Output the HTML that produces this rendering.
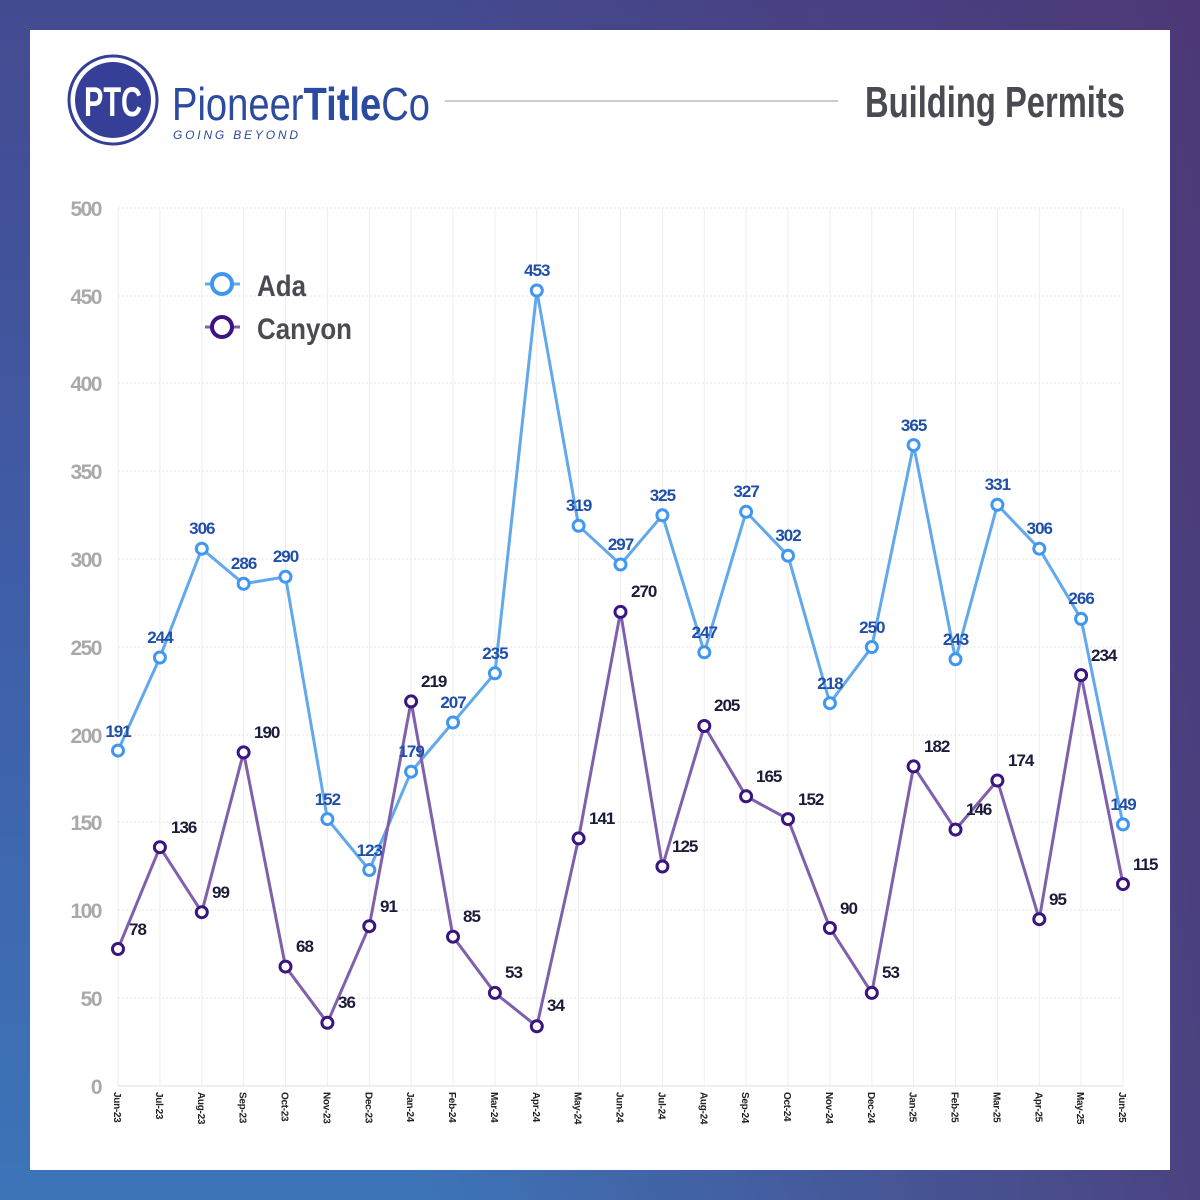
<!DOCTYPE html>
<html><head><meta charset="utf-8"><style>
html,body{margin:0;padding:0;width:1200px;height:1200px;overflow:hidden}
body{background:linear-gradient(180deg,#444a90 0%,#3f5ea8 50%,#3d74b8 100%);position:relative}
.bg2{position:absolute;inset:0;background:linear-gradient(90deg,rgba(0,0,0,0) 35%,rgba(80,50,110,0.75) 100%)}
svg{position:absolute;left:0;top:0}
text{font-family:"Liberation Sans Narrow","Liberation Sans",sans-serif;font-weight:bold}
.yl{fill:#a9a9a9;font-size:21px;text-anchor:end;letter-spacing:-1.5px}
.xl{fill:#222;font-size:10px;letter-spacing:-0.3px}
.al{fill:#1f4fa8;font-size:17px;text-anchor:middle;letter-spacing:-1px}
.cl{fill:#1b1b3a;font-size:17px;letter-spacing:-1px}
</style></head><body><div class="bg2"></div>
<svg width="1200" height="1200" viewBox="0 0 1200 1200">
<rect x="30" y="30" width="1140" height="1140" fill="#fff"/>
<!-- logo -->
<circle cx="113" cy="100" r="44" fill="#fff" stroke="#353f98" stroke-width="3"/>
<circle cx="113" cy="100" r="38" fill="#353f98"/>
<text x="113" y="116" text-anchor="middle" fill="#fff" font-size="42" textLength="58" lengthAdjust="spacingAndGlyphs">PTC</text>
<text x="172" y="120" fill="#2b4aa0" font-size="46" style="font-weight:normal" textLength="258" lengthAdjust="spacingAndGlyphs">Pioneer<tspan font-weight="bold">Title</tspan>Co</text>
<text x="173" y="139" fill="#2b4aa0" font-size="12" style="font-weight:normal;font-style:italic" textLength="125" lengthAdjust="spacing">GOING BEYOND</text>
<line x1="445" y1="101" x2="838" y2="101" stroke="#bbb" stroke-width="1.5"/>
<text x="1125" y="117" text-anchor="end" fill="#4a4a52" font-size="44" textLength="260" lengthAdjust="spacingAndGlyphs">Building Permits</text>
<!-- grid -->
<g stroke="#e6e6e6" stroke-width="1" stroke-dasharray="2,2">
<line x1="118" y1="208" x2="1123" y2="208"/><line x1="118" y1="296" x2="1123" y2="296"/><line x1="118" y1="383" x2="1123" y2="383"/><line x1="118" y1="471" x2="1123" y2="471"/><line x1="118" y1="559" x2="1123" y2="559"/><line x1="118" y1="647" x2="1123" y2="647"/><line x1="118" y1="735" x2="1123" y2="735"/><line x1="118" y1="822" x2="1123" y2="822"/><line x1="118" y1="910" x2="1123" y2="910"/><line x1="118" y1="998" x2="1123" y2="998"/>
</g>
<g stroke="#eeeeee" stroke-width="1">
<line x1="118" y1="208" x2="118" y2="1086"/><line x1="159.9" y1="208" x2="159.9" y2="1086"/><line x1="201.8" y1="208" x2="201.8" y2="1086"/><line x1="243.6" y1="208" x2="243.6" y2="1086"/><line x1="285.5" y1="208" x2="285.5" y2="1086"/><line x1="327.4" y1="208" x2="327.4" y2="1086"/><line x1="369.3" y1="208" x2="369.3" y2="1086"/><line x1="411.1" y1="208" x2="411.1" y2="1086"/><line x1="453" y1="208" x2="453" y2="1086"/><line x1="494.9" y1="208" x2="494.9" y2="1086"/><line x1="536.8" y1="208" x2="536.8" y2="1086"/><line x1="578.6" y1="208" x2="578.6" y2="1086"/><line x1="620.5" y1="208" x2="620.5" y2="1086"/><line x1="662.4" y1="208" x2="662.4" y2="1086"/><line x1="704.3" y1="208" x2="704.3" y2="1086"/><line x1="746.1" y1="208" x2="746.1" y2="1086"/><line x1="788" y1="208" x2="788" y2="1086"/><line x1="829.9" y1="208" x2="829.9" y2="1086"/><line x1="871.8" y1="208" x2="871.8" y2="1086"/><line x1="913.6" y1="208" x2="913.6" y2="1086"/><line x1="955.5" y1="208" x2="955.5" y2="1086"/><line x1="997.4" y1="208" x2="997.4" y2="1086"/><line x1="1039.3" y1="208" x2="1039.3" y2="1086"/><line x1="1081.1" y1="208" x2="1081.1" y2="1086"/><line x1="1123" y1="208" x2="1123" y2="1086"/>
<line x1="118" y1="1086" x2="1123" y2="1086" stroke="#e2e2e2"/>
</g>
<!-- y labels -->
<text class="yl" x="101" y="216">500</text><text class="yl" x="101" y="304">450</text><text class="yl" x="101" y="391">400</text><text class="yl" x="101" y="479">350</text><text class="yl" x="101" y="567">300</text><text class="yl" x="101" y="655">250</text><text class="yl" x="101" y="743">200</text><text class="yl" x="101" y="830">150</text><text class="yl" x="101" y="918">100</text><text class="yl" x="101" y="1006">50</text><text class="yl" x="101" y="1094">0</text>
<!-- x labels -->
<g class="xl">
<text transform="translate(114,1092) rotate(90)">Jun-23</text><text transform="translate(155.9,1092) rotate(90)">Jul-23</text><text transform="translate(197.8,1092) rotate(90)">Aug-23</text><text transform="translate(239.6,1092) rotate(90)">Sep-23</text><text transform="translate(281.5,1092) rotate(90)">Oct-23</text><text transform="translate(323.4,1092) rotate(90)">Nov-23</text><text transform="translate(365.3,1092) rotate(90)">Dec-23</text><text transform="translate(407.1,1092) rotate(90)">Jan-24</text><text transform="translate(449,1092) rotate(90)">Feb-24</text><text transform="translate(490.9,1092) rotate(90)">Mar-24</text><text transform="translate(532.8,1092) rotate(90)">Apr-24</text><text transform="translate(574.6,1092) rotate(90)">May-24</text><text transform="translate(616.5,1092) rotate(90)">Jun-24</text><text transform="translate(658.4,1092) rotate(90)">Jul-24</text><text transform="translate(700.3,1092) rotate(90)">Aug-24</text><text transform="translate(742.1,1092) rotate(90)">Sep-24</text><text transform="translate(784,1092) rotate(90)">Oct-24</text><text transform="translate(825.9,1092) rotate(90)">Nov-24</text><text transform="translate(867.8,1092) rotate(90)">Dec-24</text><text transform="translate(909.6,1092) rotate(90)">Jan-25</text><text transform="translate(951.5,1092) rotate(90)">Feb-25</text><text transform="translate(993.4,1092) rotate(90)">Mar-25</text><text transform="translate(1035.3,1092) rotate(90)">Apr-25</text><text transform="translate(1077.1,1092) rotate(90)">May-25</text><text transform="translate(1119,1092) rotate(90)">Jun-25</text>
</g>
<!-- Ada -->
<polyline fill="none" stroke="#62a8ec" stroke-width="3" points="118,750.6 159.9,657.5 201.8,548.7 243.6,583.8 285.5,576.8 327.4,819.1 369.3,870 411.1,771.7 453,722.5 494.9,673.3 536.8,290.5 578.6,525.8 620.5,564.5 662.4,515.3 704.3,652.3 746.1,511.8 788,555.7 829.9,703.2 871.8,647 913.6,445.1 955.5,659.3 997.4,504.8 1039.3,548.7 1081.1,618.9 1123,824.4"/>
<!-- Canyon -->
<polyline fill="none" stroke="#8060ac" stroke-width="3" points="118,949 159.9,847.2 201.8,912.2 243.6,752.4 285.5,966.6 327.4,1022.8 369.3,926.2 411.1,701.4 453,936.7 494.9,992.9 536.8,1026.3 578.6,838.4 620.5,611.9 662.4,866.5 704.3,726 746.1,796.3 788,819.1 829.9,928 871.8,992.9 913.6,766.4 955.5,829.6 997.4,780.5 1039.3,919.2 1081.1,675.1 1123,884.1"/>
<g fill="#fff" stroke="#3f97f0" stroke-width="3">
<circle cx="118" cy="750.6" r="5.5"/><circle cx="159.9" cy="657.5" r="5.5"/><circle cx="201.8" cy="548.7" r="5.5"/><circle cx="243.6" cy="583.8" r="5.5"/><circle cx="285.5" cy="576.8" r="5.5"/><circle cx="327.4" cy="819.1" r="5.5"/><circle cx="369.3" cy="870" r="5.5"/><circle cx="411.1" cy="771.7" r="5.5"/><circle cx="453" cy="722.5" r="5.5"/><circle cx="494.9" cy="673.3" r="5.5"/><circle cx="536.8" cy="290.5" r="5.5"/><circle cx="578.6" cy="525.8" r="5.5"/><circle cx="620.5" cy="564.5" r="5.5"/><circle cx="662.4" cy="515.3" r="5.5"/><circle cx="704.3" cy="652.3" r="5.5"/><circle cx="746.1" cy="511.8" r="5.5"/><circle cx="788" cy="555.7" r="5.5"/><circle cx="829.9" cy="703.2" r="5.5"/><circle cx="871.8" cy="647" r="5.5"/><circle cx="913.6" cy="445.1" r="5.5"/><circle cx="955.5" cy="659.3" r="5.5"/><circle cx="997.4" cy="504.8" r="5.5"/><circle cx="1039.3" cy="548.7" r="5.5"/><circle cx="1081.1" cy="618.9" r="5.5"/><circle cx="1123" cy="824.4" r="5.5"/>
</g>
<g fill="#fff" stroke="#3a1580" stroke-width="3">
<circle cx="118" cy="949" r="5.5"/><circle cx="159.9" cy="847.2" r="5.5"/><circle cx="201.8" cy="912.2" r="5.5"/><circle cx="243.6" cy="752.4" r="5.5"/><circle cx="285.5" cy="966.6" r="5.5"/><circle cx="327.4" cy="1022.8" r="5.5"/><circle cx="369.3" cy="926.2" r="5.5"/><circle cx="411.1" cy="701.4" r="5.5"/><circle cx="453" cy="936.7" r="5.5"/><circle cx="494.9" cy="992.9" r="5.5"/><circle cx="536.8" cy="1026.3" r="5.5"/><circle cx="578.6" cy="838.4" r="5.5"/><circle cx="620.5" cy="611.9" r="5.5"/><circle cx="662.4" cy="866.5" r="5.5"/><circle cx="704.3" cy="726" r="5.5"/><circle cx="746.1" cy="796.3" r="5.5"/><circle cx="788" cy="819.1" r="5.5"/><circle cx="829.9" cy="928" r="5.5"/><circle cx="871.8" cy="992.9" r="5.5"/><circle cx="913.6" cy="766.4" r="5.5"/><circle cx="955.5" cy="829.6" r="5.5"/><circle cx="997.4" cy="780.5" r="5.5"/><circle cx="1039.3" cy="919.2" r="5.5"/><circle cx="1081.1" cy="675.1" r="5.5"/><circle cx="1123" cy="884.1" r="5.5"/>
</g>
<!-- Ada labels -->
<g class="al">
<text x="118" y="737">191</text><text x="159.9" y="643">244</text><text x="201.8" y="534">306</text><text x="243.6" y="569">286</text><text x="285.5" y="562">290</text><text x="327.4" y="805">152</text><text x="369.3" y="856">123</text><text x="411.1" y="757">179</text><text x="453" y="708">207</text><text x="494.9" y="659">235</text><text x="536.8" y="276">453</text><text x="578.6" y="511">319</text><text x="620.5" y="550">297</text><text x="662.4" y="501">325</text><text x="704.3" y="638">247</text><text x="746.1" y="497">327</text><text x="788" y="541">302</text><text x="829.9" y="689">218</text><text x="871.8" y="633">250</text><text x="913.6" y="431">365</text><text x="955.5" y="645">243</text><text x="997.4" y="490">331</text><text x="1039.3" y="534">306</text><text x="1081.1" y="604">266</text><text x="1123" y="810">149</text>
</g>
<!-- Canyon labels -->
<g class="cl">
<text x="129" y="935">78</text><text x="171" y="833">136</text><text x="212" y="898">99</text><text x="254" y="738">190</text><text x="296" y="952">68</text><text x="338" y="1008">36</text><text x="380" y="912">91</text><text x="421" y="687">219</text><text x="463" y="922">85</text><text x="505" y="978">53</text><text x="547" y="1011">34</text><text x="589" y="824">141</text><text x="631" y="597">270</text><text x="672" y="852">125</text><text x="714" y="711">205</text><text x="756" y="782">165</text><text x="798" y="805">152</text><text x="840" y="914">90</text><text x="882" y="978">53</text><text x="924" y="752">182</text><text x="966" y="815">146</text><text x="1008" y="766">174</text><text x="1049" y="905">95</text><text x="1091" y="661">234</text><text x="1133" y="870">115</text>
</g>
<!-- legend -->
<line x1="205" y1="284" x2="240" y2="284" stroke="#62a8ec" stroke-width="3"/>
<circle cx="222" cy="284" r="10" fill="#fff" stroke="#3f97f0" stroke-width="4"/>
<text x="257" y="296" fill="#4a4a52" font-size="30" textLength="49" lengthAdjust="spacingAndGlyphs">Ada</text>
<line x1="205" y1="327" x2="240" y2="327" stroke="#8060ac" stroke-width="3"/>
<circle cx="222" cy="327" r="10" fill="#fff" stroke="#3a1580" stroke-width="4"/>
<text x="257" y="339" fill="#4a4a52" font-size="30" textLength="95" lengthAdjust="spacingAndGlyphs">Canyon</text>
</svg>
</body></html>
